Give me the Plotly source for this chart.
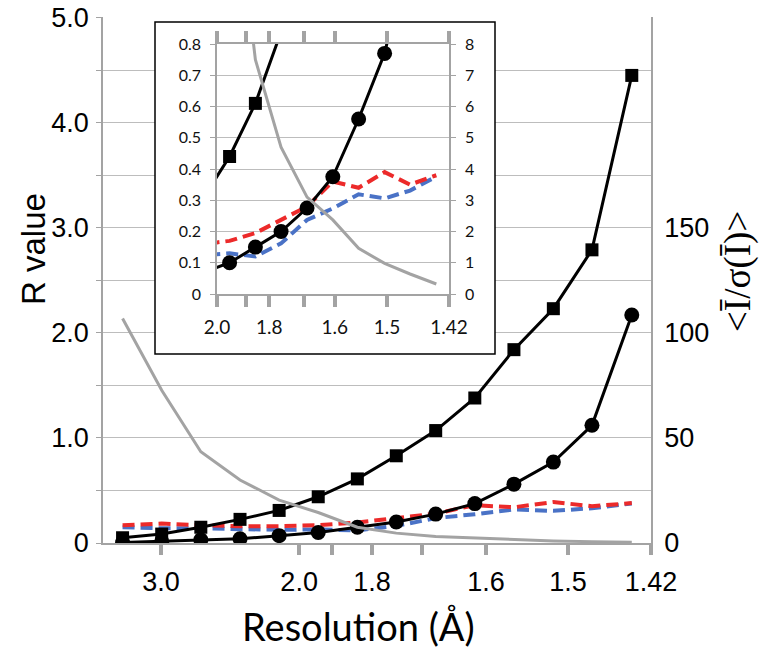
import numpy as np
import plotly.graph_objects as go

# ---------------- data ----------------
# mid-shell resolution (Å) of 14 equal-volume shells
shell_res = [4.312, 2.990, 2.522, 2.254, 2.073, 1.939, 1.834, 1.749, 1.677, 1.616, 1.563, 1.516, 1.475, 1.437]
r_squares = [0.05, 0.085, 0.15, 0.225, 0.31, 0.44, 0.61, 0.83, 1.07, 1.38, 1.84, 2.23, 2.79, 4.45]
r_circles = [0.005, 0.015, 0.03, 0.04, 0.07, 0.10, 0.15, 0.20, 0.275, 0.375, 0.56, 0.77, 1.12, 2.17]
r_red = [0.17, 0.185, 0.17, 0.16, 0.16, 0.17, 0.195, 0.237, 0.28, 0.36, 0.34, 0.39, 0.35, 0.38]
r_blue = [0.15, 0.14, 0.14, 0.13, 0.125, 0.13, 0.12, 0.162, 0.237, 0.274, 0.319, 0.306, 0.331, 0.376]
i_sigma = [106.8, 72.7, 43.4, 30.0, 20.4, 14.5, 7.5, 4.7, 3.1, 2.37, 1.46, 0.98, 0.64, 0.32]

main_tick_res = [3.0, 2.0, 1.9, 1.8, 1.7, 1.6, 1.5, 1.42]
main_tick_text = ["3.0", "2.0", "", "1.8", "", "1.6", "1.5", "1.42"]
inset_tick_res = [2.0, 1.87, 1.786, 1.686, 1.612, 1.512, 1.42]
inset_tick_text = ["2.0", "", "1.8", "", "1.6", "1.5", "1.42"]

r_ticks = [0, 0.5, 1.0, 1.5, 2.0, 2.5, 3.0, 3.5, 4.0, 4.5, 5.0]
r_tick_text = ["0", "", "1.0", "", "2.0", "", "3.0", "", "4.0", "", "5.0"]
isig_ticks = [0, 50, 100, 150]
inset_r_ticks = [0, 0.1, 0.2, 0.3, 0.4, 0.5, 0.6, 0.7, 0.8]
inset_r_text = ["0", "0.1", "0.2", "0.3", "0.4", "0.5", "0.6", "0.7", "0.8"]
inset_i_ticks = [0, 1, 2, 3, 4, 5, 6, 7, 8]

def inv3(d):
    return 1.0 / np.asarray(d, dtype=float) ** 3

x = inv3(shell_res)
x_max = float(inv3([1.42])[0])
x_inset_min = float(inv3([2.0])[0])

# ---------------- styles ----------------
GRAY = "#a3a3a3"
GRID = "#bdbdbd"
RED = "#ec2a2a"
BLUE = "#4a72c6"
SANS = "Liberation Sans, Arial, sans-serif"
CAL = "Lato, Open Sans, sans-serif"

W, H = 761, 651
L, R, T, B = 103, 110, 17, 108
pw, ph = W - L - R, H - T - B

def px_x(p):
    return (p - L) / pw

def px_y(p):
    return (H - B - p) / ph

fig = go.Figure()

def add_series(xa, ya_r, ya_i):
    fig.add_trace(go.Scatter(x=x, y=r_blue, xaxis=xa, yaxis=ya_r, mode="lines",
                             line=dict(color=BLUE, width=4, dash="12px,6px")))
    fig.add_trace(go.Scatter(x=x, y=r_red, xaxis=xa, yaxis=ya_r, mode="lines",
                             line=dict(color=RED, width=4, dash="12px,6px")))
    fig.add_trace(go.Scatter(x=x, y=r_squares, xaxis=xa, yaxis=ya_r, mode="lines+markers",
                             line=dict(color="black", width=3),
                             marker=dict(symbol="square", size=13, color="black")))
    fig.add_trace(go.Scatter(x=x, y=r_circles, xaxis=xa, yaxis=ya_r, mode="lines+markers",
                             line=dict(color="black", width=3),
                             marker=dict(symbol="circle", size=15, color="black")))
    fig.add_trace(go.Scatter(x=x, y=i_sigma, xaxis=xa, yaxis=ya_i, mode="lines",
                             line=dict(color=GRAY, width=3)))

# main chart
add_series("x", "y", "y2")

# inset box (white panel)
box_l, box_r, box_t, box_b = 155, 495, 22, 354
fig.add_trace(go.Scatter(x=[0, 1, 1, 0, 0], y=[0, 0, 1, 1, 0], xaxis="x2", yaxis="y3",
                         mode="lines", fill="toself", fillcolor="white",
                         line=dict(width=0, color="white"), hoverinfo="skip"))

# inset chart
add_series("x3", "y4", "y5")

in_l, in_r, in_t, in_b = 217, 449, 44, 294

fig.update_layout(
    width=W, height=H, margin=dict(l=L, r=R, t=T, b=B, pad=0, autoexpand=False),
    paper_bgcolor="white", plot_bgcolor="white", showlegend=False,
    xaxis=dict(domain=[0, 1], range=[0, x_max], tickvals=list(inv3(main_tick_res)),
               ticktext=main_tick_text, ticks="outside", ticklen=10, tickwidth=4,
               tickcolor=GRAY, showline=True, linecolor=GRAY, linewidth=1.5,
               showgrid=False, zeroline=False, anchor="y", automargin=False,
               ticklabeloverflow="allow",
               tickfont=dict(family=SANS, size=27, color="black"), ticklabelstandoff=4),
    yaxis=dict(domain=[0, 1], range=[0, 5.006], tickvals=r_ticks, ticktext=r_tick_text,
               ticks="outside", ticklen=5, tickwidth=1, tickcolor=GRAY, automargin=False,
               showline=True, linecolor=GRAY, linewidth=1.5, gridcolor=GRID, gridwidth=1.3,
               zeroline=False, anchor="x", ticklabeloverflow="allow",
               tickfont=dict(family=SANS, size=27, color="black"), ticklabelstandoff=2),
    yaxis2=dict(overlaying="y", side="right", range=[0, 250.3], tickvals=isig_ticks,
                showgrid=False, zeroline=False, showline=True, linecolor=GRAY, linewidth=1.5,
                anchor="x", ticks="", automargin=False, ticklabeloverflow="allow",
                tickfont=dict(family=SANS, size=27, color="black"), ticklabelstandoff=6),
    xaxis2=dict(domain=[px_x(box_l), px_x(box_r)], range=[0, 1], visible=False, anchor="y3",
                automargin=False),
    yaxis3=dict(domain=[px_y(box_b), px_y(box_t)], range=[0, 1], visible=False, anchor="x2",
                automargin=False),
    xaxis3=dict(domain=[px_x(in_l), px_x(in_r)], range=[x_inset_min, x_max],
                tickvals=list(inv3(inset_tick_res)), ticktext=inset_tick_text,
                ticks="outside", ticklen=11, tickwidth=3.5, tickcolor=GRAY, mirror="ticks",
                showline=True, linecolor=GRAY, linewidth=1.5, showgrid=False, zeroline=False,
                anchor="y4", automargin=False, ticklabeloverflow="allow",
                tickfont=dict(family=CAL, size=19, color="#111"), ticklabelstandoff=4),
    yaxis4=dict(domain=[px_y(in_b), px_y(in_t)], range=[0, 0.8], tickvals=inset_r_ticks,
                ticktext=inset_r_text, ticks="outside", ticklen=5, tickwidth=1, tickcolor=GRAY,
                showline=True, linecolor=GRAY, linewidth=1.5, gridcolor=GRID, gridwidth=1.3,
                zeroline=False, anchor="x3", automargin=False, ticklabeloverflow="allow",
                tickfont=dict(family=CAL, size=16, color="#111"), ticklabelstandoff=6),
    yaxis5=dict(overlaying="y4", side="right", range=[0, 8], tickvals=inset_i_ticks,
                showgrid=False, zeroline=False, showline=True, linecolor=GRAY, linewidth=1.5,
                anchor="x3", ticks="outside", ticklen=5, tickwidth=1, tickcolor=GRAY,
                automargin=False, ticklabeloverflow="allow",
                tickfont=dict(family=CAL, size=16, color="#111"), ticklabelstandoff=6),
    shapes=[dict(type="rect", xref="paper", yref="paper",
                 x0=px_x(box_l), x1=px_x(box_r), y0=px_y(box_b), y1=px_y(box_t),
                 line=dict(color="black", width=1.5), fillcolor="rgba(0,0,0,0)", layer="above")],
    annotations=[
        dict(text="R value", xref="paper", yref="paper", x=px_x(33), y=px_y(249),
             textangle=-90, showarrow=False, xanchor="center", yanchor="middle",
             font=dict(family=SANS, size=33, color="black")),
        dict(text="<Ī/σ(Ī)>", xref="paper", yref="paper", x=px_x(738), y=px_y(272),
             textangle=-90, showarrow=False, xanchor="center", yanchor="middle",
             font=dict(family="Liberation Serif, Times New Roman, serif", size=37, color="black")),
        dict(text="Resolution (Å)", xref="paper", yref="paper", x=px_x(358), y=px_y(626),
             showarrow=False, xanchor="center", yanchor="middle",
             font=dict(family=CAL, size=38, color="black")),
    ],
)

# remove the default 8px page margin so the 761x651 figure fills the window exactly
fig.write_html("out.html", config={"displayModeBar": False},
               post_script="document.body.style.margin='0';document.body.style.overflow='hidden';")
